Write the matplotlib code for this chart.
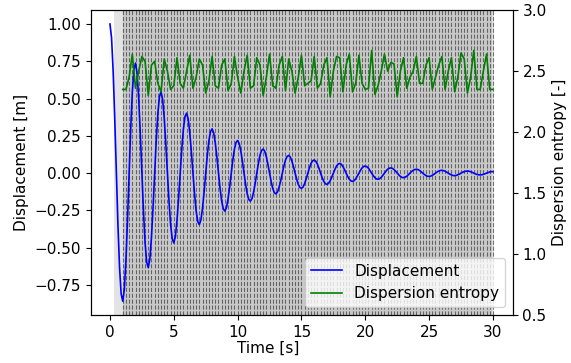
import numpy as np
import matplotlib
matplotlib.use('Agg')
import matplotlib.pyplot as plt

# --- Daten ---

t_step = 0.125  # Abstand der Verschiebungswerte [s]
displacement = [1.000, 0.907, 0.681, 0.362, 0.000, -0.348, -0.631, -0.809,    # 0 - 1 s
                -0.859, -0.779, -0.585, -0.311, 0.000, 0.299, 0.542, 0.695,
                0.738, 0.669, 0.502, 0.267, 0.000, -0.257, -0.466, -0.597,
                -0.634, -0.575, -0.431, -0.229, 0.000, 0.221, 0.400, 0.513,
                0.545, 0.494, 0.371, 0.197, 0.000, -0.190, -0.344, -0.440,
                -0.468, -0.424, -0.318, -0.169, 0.000, 0.163, 0.295, 0.378,
                0.402, 0.364, 0.273, 0.145, 0.000, -0.140, -0.253, -0.325,
                -0.345, -0.313, -0.235, -0.125, 0.000, 0.120, 0.218, 0.279,
                0.297, 0.269, 0.202, 0.107, 0.000, -0.103, -0.187, -0.240,
                -0.255, -0.231, -0.173, -0.092, 0.000, 0.089, 0.161, 0.206,
                0.219, 0.198, 0.149, 0.079, 0.000, -0.076, -0.138, -0.177,    # 10 - 11 s
                -0.188, -0.170, -0.128, -0.068, 0.000, 0.065, 0.119, 0.152,
                0.162, 0.146, 0.110, 0.058, 0.000, -0.056, -0.102, -0.131,
                -0.139, -0.126, -0.094, -0.050, 0.000, 0.048, 0.088, 0.112,
                0.119, 0.108, 0.081, 0.043, 0.000, -0.041, -0.075, -0.096,
                -0.102, -0.093, -0.070, -0.037, 0.000, 0.036, 0.065, 0.083,
                0.088, 0.080, 0.060, 0.032, 0.000, -0.031, -0.055, -0.071,
                -0.076, -0.068, -0.051, -0.027, 0.000, 0.026, 0.048, 0.061,
                0.065, 0.059, 0.044, 0.023, 0.000, -0.023, -0.041, -0.052,
                -0.056, -0.050, -0.038, -0.020, 0.000, 0.019, 0.035, 0.045,
                0.048, 0.043, 0.033, 0.017, 0.000, -0.017, -0.030, -0.039,    # 20 - 21 s
                -0.041, -0.037, -0.028, -0.015, 0.000, 0.014, 0.026, 0.033,
                0.035, 0.032, 0.024, 0.013, 0.000, -0.012, -0.022, -0.029,
                -0.030, -0.027, -0.021, -0.011, 0.000, 0.011, 0.019, 0.024,
                0.026, 0.024, 0.018, 0.009, 0.000, -0.009, -0.016, -0.021,
                -0.022, -0.020, -0.015, -0.008, 0.000, 0.008, 0.014, 0.018,
                0.019, 0.017, 0.013, 0.007, 0.000, -0.007, -0.012, -0.016,
                -0.017, -0.015, -0.011, -0.006, 0.000, 0.006, 0.010, 0.013,
                0.014, 0.013, 0.010, 0.005, 0.000, -0.005, -0.009, -0.011,
                -0.012, -0.011, -0.008, -0.004, 0.000, 0.004, 0.008, 0.010,
                0.010]                                                          # 30 s

entropy_start = 1.0   # erstes Fenster [s]
entropy_step = 0.25   # Fensterschritt [s]
entropy = [2.35, 2.35, 2.45, 2.64,    # 1 s
           2.36, 2.50, 2.62, 2.58,
           2.30, 2.55, 2.58, 2.40,
           2.33, 2.60, 2.50, 2.35,
           2.38, 2.61, 2.40, 2.36,    # 5 s
           2.50, 2.63, 2.36, 2.45,
           2.60, 2.55, 2.32, 2.42,
           2.62, 2.38, 2.36, 2.55,
           2.60, 2.34, 2.40, 2.62,
           2.45, 2.32, 2.50, 2.63,    # 10 s
           2.36, 2.38, 2.61, 2.55,
           2.30, 2.45, 2.64, 2.38,
           2.36, 2.55, 2.62, 2.34,
           2.60, 2.50, 2.32, 2.45,
           2.63, 2.38, 2.40, 2.42,    # 15 s
           2.62, 2.36, 2.40, 2.55,
           2.61, 2.29, 2.50, 2.62,
           2.61, 2.33, 2.55, 2.64,
           2.33, 2.40, 2.63, 2.40,
           2.35, 2.36, 2.67, 2.31,    # 20 s
           2.38, 2.50, 2.64, 2.50,
           2.57, 2.56, 2.29, 2.50,
           2.61, 2.36, 2.45, 2.50,
           2.62, 2.40, 2.40, 2.55,
           2.61, 2.35, 2.45, 2.55,    # 25 s
           2.62, 2.35, 2.50, 2.61,
           2.33, 2.45, 2.65, 2.60,
           2.32, 2.45, 2.67, 2.35,
           2.35, 2.50, 2.64, 2.35,
           2.35]                      # 30 s

t_disp = np.arange(len(displacement)) * t_step
t_ent = entropy_start + np.arange(len(entropy)) * entropy_step

# --- Plotten ---

fsize = 11
plt.rcParams['font.size'] = fsize

fig = plt.figure(figsize=(5.71, 3.63), dpi=100)
ax = fig.add_axes([0.159, 0.132, 0.739, 0.840])

# Fenster: grau hinterlegt, Grenzen gestrichelt
ax.axvspan(0.35, 30.05, color='0.89', lw=0)
ax.axvspan(t_ent[0], t_ent[-1] - 0.1, color='0.79', lw=0)
for x in t_ent:
    ax.axvline(x, color='k', linestyle='--', lw=0.8, alpha=0.5)

l1, = ax.plot(t_disp, displacement, color='blue', lw=1.2)
ax.set_xlabel('Time [s]', labelpad=1, x=0.42)
ax.set_ylabel('Displacement [m]')
ax.set_yticks([-0.75, -0.5, -0.25, 0, 0.25, 0.5, 0.75, 1.0])

ax2 = ax.twinx()
l2, = ax2.plot(t_ent, entropy, color='green', lw=1.2)
ax2.set_ylim(0.5, 3.0)
ax2.set_ylabel('Dispersion entropy [-]')

ax2.legend([l1, l2], ['Displacement', 'Dispersion entropy'], loc='lower right')

fig.savefig('out.png', dpi=100)
